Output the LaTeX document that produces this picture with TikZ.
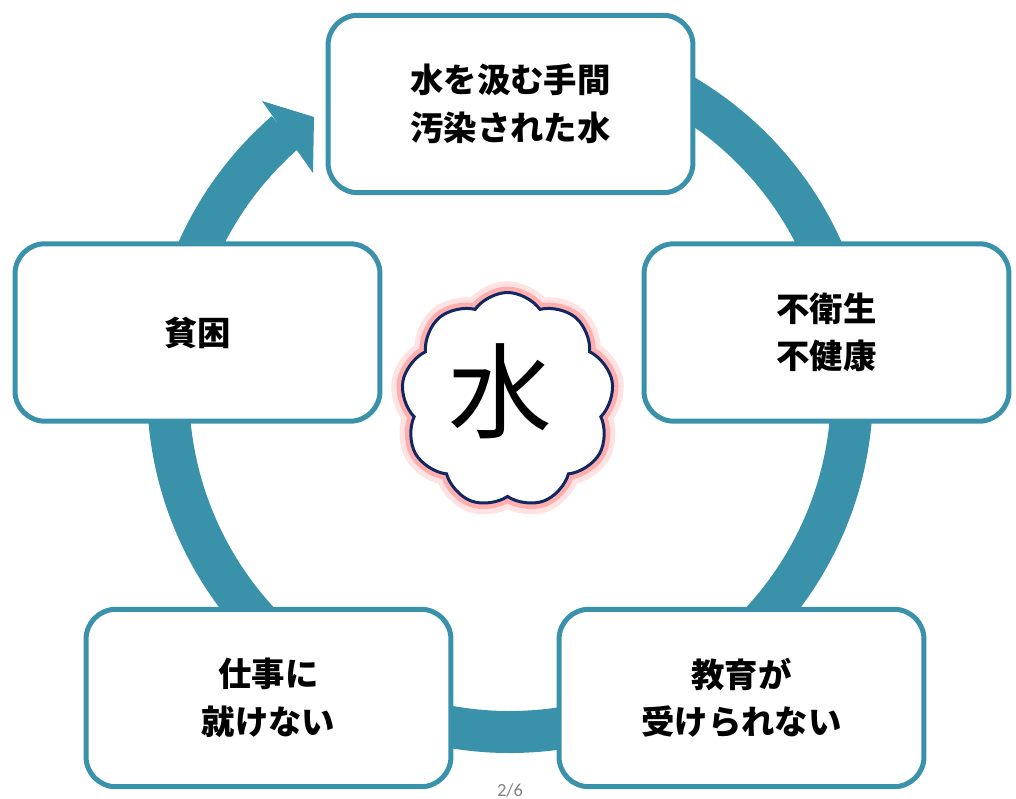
\documentclass[tikz,border=0pt]{standalone}
\usepackage{fontspec}
\newfontfamily\jp{Noto Sans CJK JP}
\setsansfont{Carlito}
\usetikzlibrary{positioning}
\usetikzlibrary{shapes.symbols}
\definecolor{ringblue}{RGB}{58,146,170}
\definecolor{cloudline}{RGB}{18,38,98}
\tikzset{
  ring/.style={ringblue,line width=0.84cm},
  stagebox/.style={draw=ringblue,fill=white,line width=0.1cm,rounded corners=0.6cm,
    minimum width=7.3cm,minimum height=3.55cm,align=center,
    font=\jp\bfseries\fontsize{19}{27}\selectfont},
  puff/.style={cloud,cloud puffs=9,cloud puff arc=110,aspect=1,minimum width=4.25cm,minimum height=4.3cm}
}
\begin{document}
\begin{tikzpicture}[x=0.02cm,y=0.02cm]
 \useasboundingbox (0,0) rectangle (1016,798);
 \coordinate (c) at (510,408);
 \draw[ring] (c) ++(95:342) arc[start angle=95,end angle=-229,radius=342];
 \fill[ringblue] (262,697)--(314,681)--(313,625)--cycle;

 \node[stagebox] (fetch) at (510.5,694) {水を汲む手間\\汚染された水};
 \node[stagebox] (dirt) at (826.5,465.5) {不衛生\\不健康};
 \node[stagebox] (school) at (741.5,100) {教育が\\受けられない};
 \node[stagebox] (job) at (268.5,100) {仕事に\\就けない};
 \node[stagebox] (poor) at (197.5,465.5) {貧困};

 \node[puff,draw=red!18,opacity=0.6,line width=0.45cm] (glowa) at (507.5,398) {};
 \node[puff,draw=red!45,opacity=0.6,line width=0.24cm] (glowb) at (507.5,398) {};
 \node[puff,draw=cloudline,fill=white,line width=0.06cm] (cloud) at (507.5,398) {};
 \node[font=\jp\fontsize{59}{60}\selectfont] (water) at (500,407) {水};

 \node[text=black!50,font=\sffamily\fontsize{10.5}{11}\selectfont] (page) at (510,8) {2/6};
\end{tikzpicture}
\end{document}
